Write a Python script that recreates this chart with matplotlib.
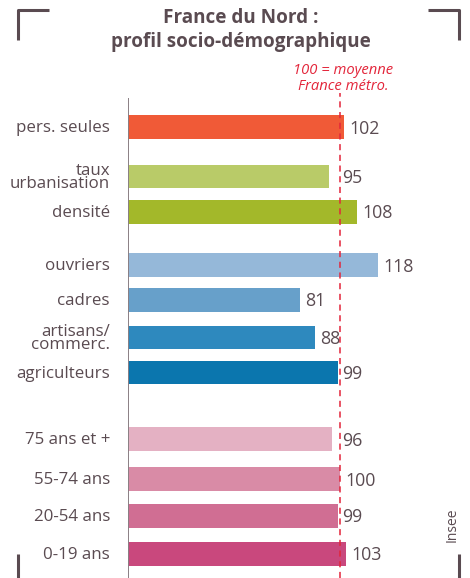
import numpy as np
import matplotlib.pyplot as plt
from matplotlib.lines import Line2D

# donnees
categories = ["pers. seules", "taux\nurbanisation", "densité",
              "ouvriers", "cadres", "artisans/\ncommerc.", "agriculteurs",
              "75 ans et +", "55-74 ans", "20-54 ans", "0-19 ans"]
valeurs = [102, 95, 108, 118, 81, 88, 99, 96, 100, 99, 103]
couleurs = ["#F05A37", "#B9CB68", "#A3B82A",
            "#95B8D9", "#67A0CA", "#2E89BE", "#0B76AE",
            "#E4B1C3", "#D98BA6", "#D06E93", "#C9487D"]

# positions verticales (en pixels depuis le haut)
pos_y = [127, 176.5, 212, 265, 300, 337.5, 372.5, 439, 479, 516, 554]

W, H = 470, 578
gris = "#5A4B51"
rouge = "#E3253A"
plt.rcParams['font.family'] = ['Open Sans', 'DejaVu Sans']

fig = plt.figure(figsize=(W / 100, H / 100), dpi=100)
x0, x1 = 128, 440
y_top = 98
ax = fig.add_axes([x0 / W, 0, (x1 - x0) / W, (H - y_top) / H])
px_par_unite = 2.12
ax.set_xlim(0, (x1 - x0) / px_par_unite)
ax.set_ylim(H, y_top)
ax.axis('off')

ax.barh(pos_y, valeurs, height=23.5, color=couleurs)
ax.axvline(0, color="#8A7F84", lw=1.4)
ax.plot([100, 100], [H, 93], color=rouge, lw=1.1, ls=(0, (4, 3)), clip_on=False)

for y, v, c in zip(pos_y, valeurs, categories):
    xt = v + 2.5
    if 90 <= v < 100:
        xt = 101
    ax.text(xt, y + 1.5, str(v), va='center', ha='left', fontsize=12.8, color=gris)
    ax.text(-8.5, y + 1, c, va='center', ha='right', fontsize=12.2, color=gris,
            linespacing=0.75)

fig.text(241 / W, 1 - 18 / H, "France du Nord :", ha='center', va='center',
         fontsize=13.6, fontweight='bold', color=gris)
fig.text(241 / W, 1 - 42 / H, "profil socio-démographique", ha='center', va='center',
         fontsize=13.6, fontweight='bold', color=gris)
fig.text(343 / W, 1 - 71 / H, "100 = moyenne", ha='center', va='center',
         fontsize=10.6, style='italic', color=rouge)
fig.text(343 / W, 1 - 87 / H, "France métro.", ha='center', va='center',
         fontsize=10.6, style='italic', color=rouge)
fig.text(452 / W, 1 - 525 / H, "Insee", ha='center', va='center', rotation=90,
         fontsize=10, color=gris)

# coins
for xs, ys in [([18, 18, 49], [40, 10, 10]), ([428, 459, 459], [10, 10, 40]),
               ([18, 18], [554, 578]), ([459, 459], [554, 578])]:
    fig.add_artist(Line2D(np.array(xs) / W, 1 - np.array(ys) / H,
                          color=gris, lw=2.2, solid_capstyle='butt'))

fig.savefig("out.png", dpi=100)
